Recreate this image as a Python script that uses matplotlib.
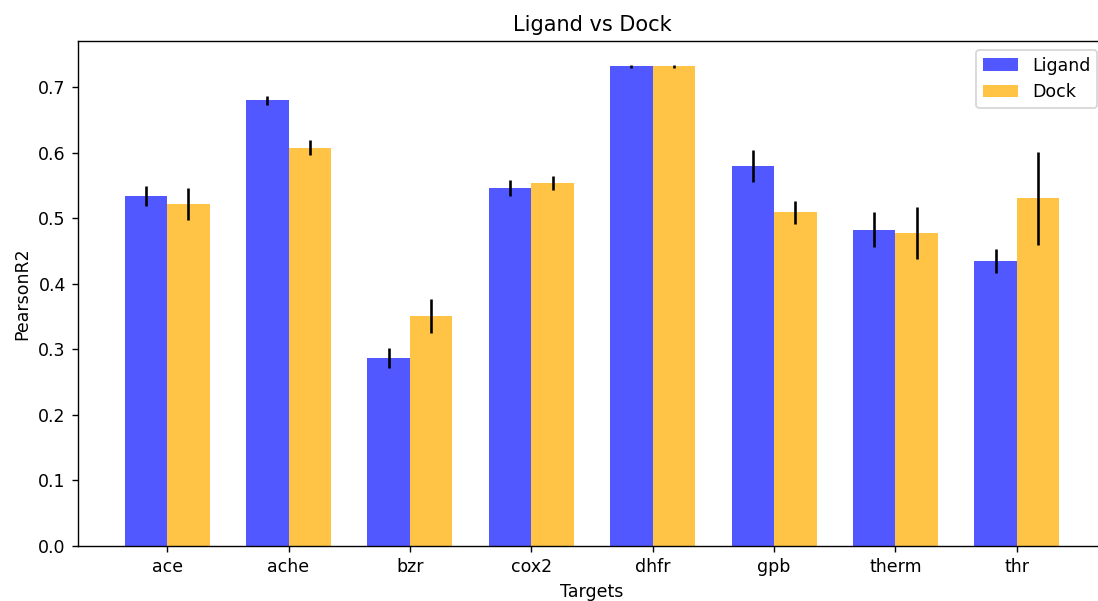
import numpy as np
import matplotlib
matplotlib.use('Agg')
import matplotlib.pyplot as plt

# Datos
targets = ['ace', 'ache', 'bzr', 'cox2', 'dhfr', 'gpb', 'therm', 'thr']
ligand_mean = [0.534, 0.680, 0.287, 0.546, 0.732, 0.580, 0.483, 0.435]
ligand_err = [0.015, 0.007, 0.015, 0.012, 0.002, 0.024, 0.027, 0.018]
dock_mean = [0.522, 0.608, 0.351, 0.554, 0.732, 0.509, 0.478, 0.531]
dock_err = [0.025, 0.012, 0.026, 0.010, 0.002, 0.018, 0.040, 0.071]

x = np.arange(len(targets))
ancho = 0.35

# la figura original queda recortada por la derecha
fig = plt.figure(figsize=(1098 / 125, 601 / 125), dpi=125)
ax = fig.add_axes([0.0710, 0.0915, 0.9363, 0.8403])

ax.bar(x - ancho / 2, ligand_mean, ancho, yerr=ligand_err,
       color='#5258ff', label='Ligand')
ax.bar(x + ancho / 2, dock_mean, ancho, yerr=dock_err,
       color='#ffc445', label='Dock')

ax.set_xticks(x)
ax.set_xticklabels(targets)
ax.set_xlabel('Targets')
ax.set_ylabel('PearsonR2')
ax.set_title('Ligand vs Dock')
ax.legend(loc='upper right')

fig.savefig('out.png', dpi=125)
